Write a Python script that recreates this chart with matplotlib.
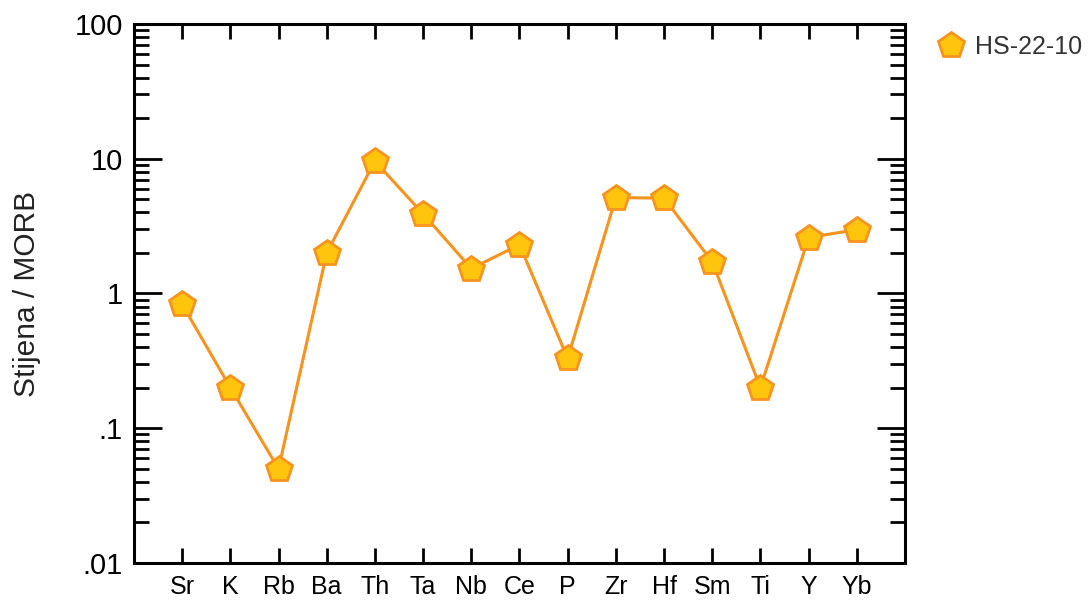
import numpy as np
import matplotlib
matplotlib.use("Agg")
import matplotlib.pyplot as plt
from matplotlib.ticker import LogLocator, FixedLocator, NullFormatter

plt.rcParams["font.family"] = ["Liberation Sans", "DejaVu Sans"]

# ---- data ----
elements = ["Sr", "K", "Rb", "Ba", "Th", "Ta", "Nb", "Ce", "P", "Zr",
            "Hf", "Sm", "Ti", "Y", "Yb"]
hs_22_10 = [0.83, 0.20, 0.05, 2.0, 9.6, 3.9, 1.53, 2.3, 0.33, 5.15,
            5.1, 1.72, 0.20, 2.6, 2.98]
ytick_vals = [0.01, 0.1, 1, 10, 100]
ytick_labels = [".01", ".1", "1", "10", "100"]

LINE = "#F7931E"
FILL = "#FFC40C"

fig = plt.figure(figsize=(10.91, 6.06), dpi=100)
ax = fig.add_axes([0.1228, 0.071, 0.7067, 0.8894])

x = np.arange(len(elements))
ax.plot(x, hs_22_10, color=LINE, lw=2.2, marker="p", ms=19,
        mfc=FILL, mec=LINE, mew=2, label="HS-22-10", zorder=3)

ax.set_yscale("log")
ax.set_ylim(0.01, 100)
ax.set_xlim(-1, len(elements))

ax.yaxis.set_major_locator(FixedLocator(ytick_vals))
ax.set_yticklabels(ytick_labels)
ax.yaxis.set_minor_locator(LogLocator(base=10, subs=np.arange(2, 10)))
ax.yaxis.set_minor_formatter(NullFormatter())
ax.set_xticks(x)
ax.set_xticklabels(elements)

ax.tick_params(axis="y", which="major", direction="in", length=20, width=2,
               left=True, right=True, labelsize=21, pad=8)
ax.tick_params(axis="y", which="minor", direction="in", length=11, width=2,
               left=True, right=True)
ax.tick_params(axis="x", which="major", direction="in", length=11, width=2,
               top=True, bottom=True, labelsize=18, pad=9)
for s in ax.spines.values():
    s.set_linewidth(2.2)

ax.set_ylabel("Stijena / MORB", fontsize=21.5, labelpad=24, color="#222222")

fig.legend(loc="upper left", bbox_to_anchor=(0.84, 0.98), frameon=False,
           fontsize=18, handlelength=1.0, handletextpad=0.45, markerscale=1.0,
           labelcolor="#333333")
for h in fig.legends[0].legend_handles:
    h.set_linestyle("none")

fig.savefig("out.png", dpi=100)
